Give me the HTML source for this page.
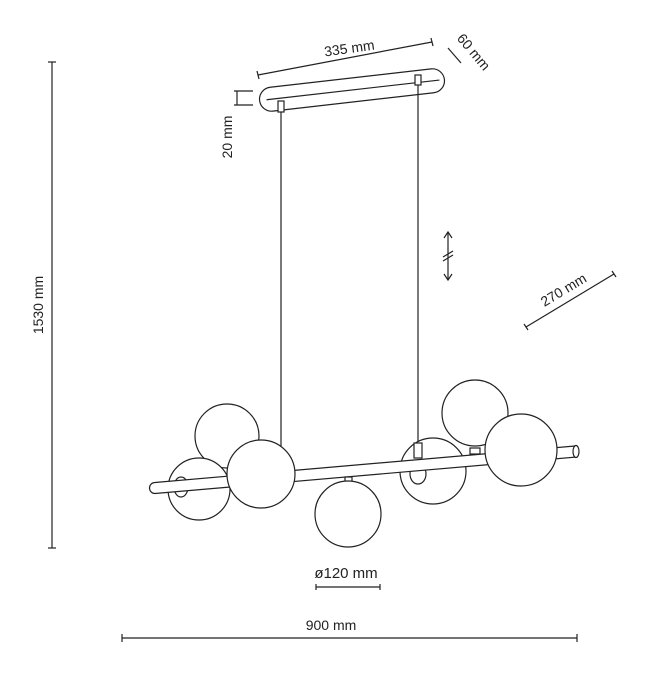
<!DOCTYPE html>
<html><head><meta charset="utf-8"><style>
html,body{margin:0;padding:0;background:#fff;}
svg{display:block;}
text{font-family:"Liberation Sans",sans-serif;font-size:14px;fill:#222;}
</style></head><body>
<svg width="650" height="677" viewBox="0 0 650 677" xmlns="http://www.w3.org/2000/svg" fill="none" stroke="#222" stroke-width="1.2">
<line x1="52" y1="62" x2="52" y2="548"/>
<line x1="48" y1="62" x2="56" y2="62"/><line x1="48" y1="548" x2="56" y2="548"/>
<text x="0" y="0" transform="translate(43,305) rotate(-90)" text-anchor="middle" stroke="none">1530 mm</text>
<line x1="122" y1="638" x2="577" y2="638"/>
<line x1="122" y1="634" x2="122" y2="642"/><line x1="577" y1="634" x2="577" y2="642"/>
<text x="331" y="630" text-anchor="middle" stroke="none">900 mm</text>
<line x1="316" y1="587" x2="380" y2="587"/>
<line x1="316" y1="584" x2="316" y2="590"/><line x1="380" y1="584" x2="380" y2="590"/>
<text x="346" y="578" text-anchor="middle" stroke="none" style="font-size:15px">ø120 mm</text>
<line x1="526" y1="327" x2="614" y2="274"/>
<line x1="524" y1="324" x2="528" y2="330"/><line x1="612" y1="271" x2="616" y2="277"/>
<text x="0" y="0" transform="translate(566,294) rotate(-31)" text-anchor="middle" stroke="none">270 mm</text>
<line x1="448" y1="232" x2="448" y2="280"/>
<polyline points="444,238 448,232 452,238"/><polyline points="444,274 448,280 452,274"/>
<line x1="443" y1="257" x2="453" y2="251"/><line x1="443" y1="261" x2="453" y2="255"/>
<line x1="258" y1="75" x2="432" y2="42"/>
<line x1="257" y1="71" x2="259" y2="79"/><line x1="431" y1="38" x2="433" y2="46"/>
<text x="0" y="0" transform="translate(350,53) rotate(-8)" text-anchor="middle" stroke="none">335 mm</text>
<line x1="448" y1="48" x2="461" y2="63"/>
<text x="0" y="0" transform="translate(470,55) rotate(50)" text-anchor="middle" stroke="none">60 mm</text>
<line x1="237" y1="91" x2="237" y2="105"/>
<line x1="234" y1="91" x2="253" y2="91"/><line x1="234" y1="105" x2="253" y2="105"/>
<text x="0" y="0" transform="translate(232,137) rotate(-90)" text-anchor="middle" stroke="none">20 mm</text>
<g transform="rotate(-6.5 352 90)">
<rect x="259" y="78" width="186" height="24" rx="12"/>
<line x1="266" y1="90" x2="440" y2="90"/>
</g>
<rect x="278" y="101" width="6" height="11" fill="#fff"/>
<rect x="415" y="75" width="6" height="10" fill="#fff"/>
<line x1="281" y1="112" x2="281" y2="446"/>
<line x1="418" y1="85" x2="418" y2="443"/>
<g fill="#fff">
<circle cx="227" cy="436" r="32"/>
<circle cx="199" cy="489" r="31"/>
<circle cx="433" cy="471" r="33"/>
<circle cx="475" cy="413" r="33"/>
</g>
<ellipse cx="181" cy="487" rx="7" ry="10"/>
<ellipse cx="418" cy="474" rx="8" ry="10"/>
<rect x="414" y="443" width="8" height="15" fill="#fff"/>
<rect x="470" y="448" width="10" height="6" fill="#fff"/>
<path d="M575,446 L155,482.5 A5.5,5.5 0 0 0 155,493.5 L577,457 Z" fill="#fff"/>
<ellipse cx="576" cy="451.5" rx="3" ry="6" fill="#fff"/>
<g fill="#fff">
<circle cx="261" cy="474" r="34"/>
<circle cx="521" cy="450" r="36"/>
<rect x="345" y="477" width="7" height="5"/>
<circle cx="348" cy="514" r="33"/>
</g>
</svg>
</body></html>
